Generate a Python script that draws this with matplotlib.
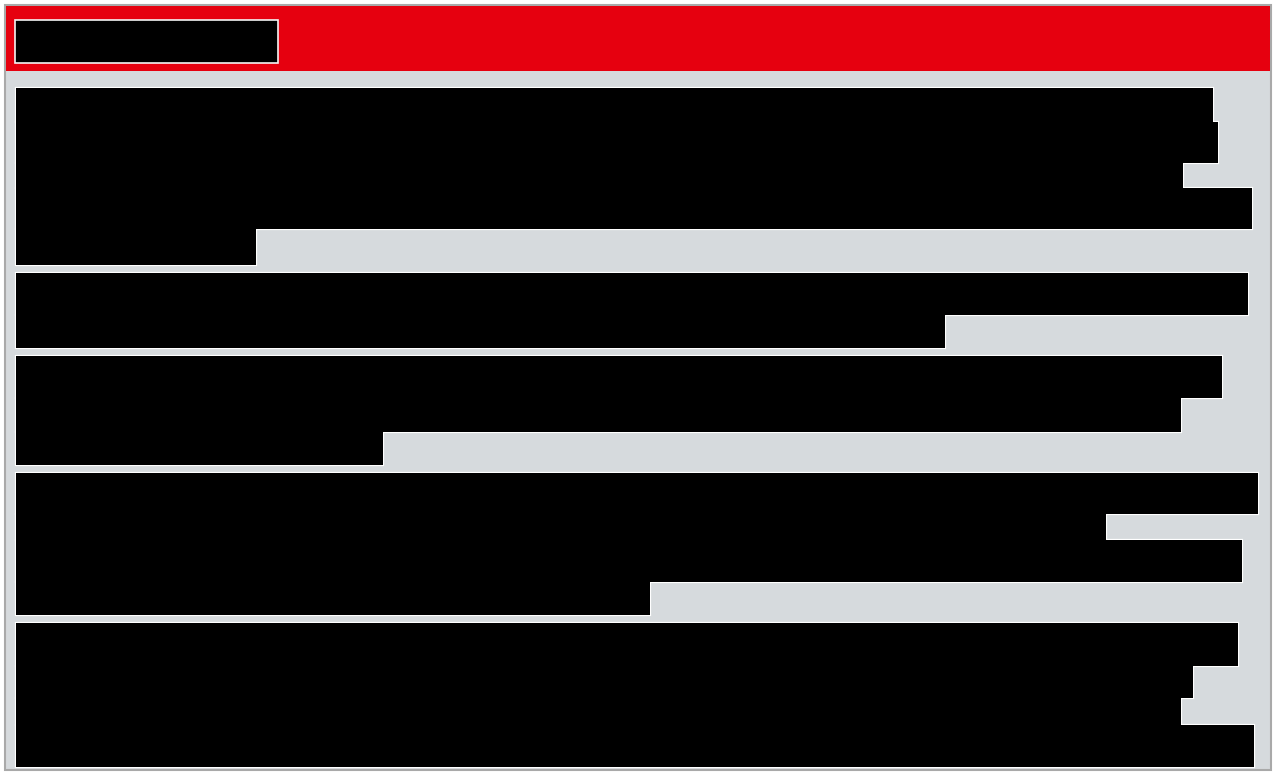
import matplotlib.pyplot as plt
from matplotlib.patches import Rectangle

# right-hand extent of each redacted row (px from the left margin), grouped in blocks
block_values = [
    [1197, 1202, 1167, 1236, 240],
    [1232, 929],
    [1206, 1165, 367],
    [1242, 1090, 1226, 634],
    [1222, 1177, 1165, 1238],
]
# thickness of each row
block_rows = [
    [34, 41, 25, 41, 36],
    [42, 33],
    [42, 34, 33],
    [41, 26, 42, 33],
    [43, 32, 27, 42],
]
title_len = 263

red = "#e6000f"
panel = "#d6dadd"
left = 16
top = 88
gap = 8

fig = plt.figure(figsize=(12.76, 7.74), dpi=100)
ax = fig.add_axes([0, 0, 1, 1])
ax.set_xlim(0, 1276)
ax.set_ylim(774, 0)
ax.axis("off")

# frame, panel and red header
ax.add_patch(Rectangle((5, 5), 1266, 765, facecolor=panel, edgecolor="#a9a9a9", lw=1.5, zorder=0))
ax.add_patch(Rectangle((6, 6), 1264, 65, facecolor=red, edgecolor="none", zorder=1))
ax.add_patch(Rectangle((15, 20), title_len, 43, facecolor="black", edgecolor="#f4f4f4", lw=1.2, zorder=2))

y = top
for vals, rows in zip(block_values, block_rows):
    centers = []
    for h in rows:
        centers.append(y + h / 2)
        y += h
    y += gap
    # white outline first, then plain fills on top so only the outer edge shows
    ax.barh(centers, vals, height=rows, left=left, color="black",
            edgecolor="white", linewidth=1.6, zorder=3)
    ax.barh(centers, vals, height=rows, left=left, color="black",
            edgecolor="none", zorder=4)

fig.savefig("out.png", dpi=100, facecolor="white")
